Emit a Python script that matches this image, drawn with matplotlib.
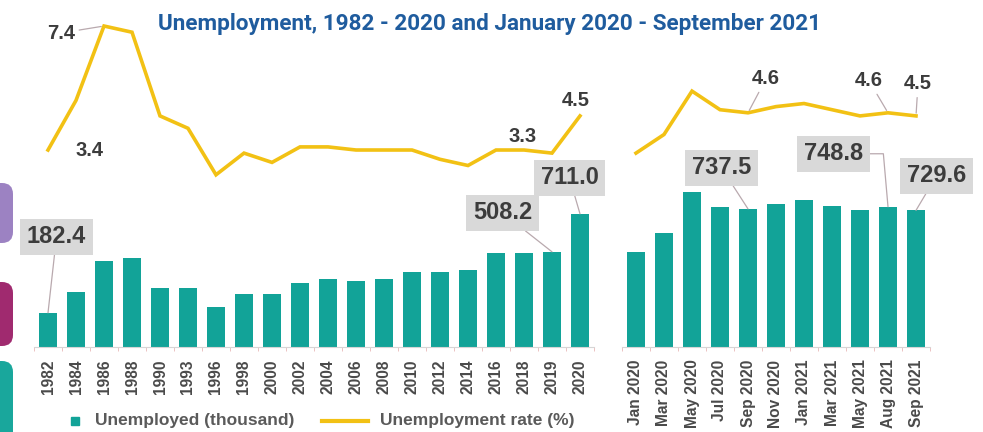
import numpy as np
import matplotlib.pyplot as plt
from matplotlib.patches import FancyBboxPatch, Rectangle
from matplotlib.lines import Line2D
from matplotlib.transforms import IdentityTransform

plt.rcParams['font.family'] = ['Liberation Sans', 'DejaVu Sans']

# annual series
years = ['1982', '1984', '1986', '1988', '1990', '1993', '1996', '1998', '2000', '2002',
         '2004', '2006', '2008', '2010', '2012', '2014', '2016', '2018', '2019', '2020']
year_unemployed = [182.4, 294, 459, 477, 315, 315, 214, 281, 281, 340,
                   361, 351, 365, 402, 399, 409, 504, 504, 508.2, 711.0]
year_rate = [3.4, 5.0, 7.4, 7.2, 4.5, 4.1, 2.6, 3.3, 3.0, 3.5,
             3.5, 3.4, 3.4, 3.4, 3.1, 2.9, 3.4, 3.4, 3.3, 4.5]

# monthly series
months = ['Jan 2020', 'Mar 2020', 'May 2020', 'Jul 2020', 'Sep 2020', 'Nov 2020',
          'Jan 2021', 'Mar 2021', 'May 2021', 'Aug 2021', 'Sep 2021']
month_unemployed = [507, 609, 828, 748, 737.5, 765, 783, 753, 732, 748.8, 729.6]
month_rate = [3.3, 3.9, 5.3, 4.7, 4.6, 4.8, 4.9, 4.7, 4.5, 4.6, 4.5]

TEAL = '#12A398'
GOLD = '#F2C114'
INK = '#3C3C3C'
LEADER = '#B9A9AE'

W, H = 983, 432
fig = plt.figure(figsize=(W / 100, H / 100), dpi=100)


def px_box(x0, y0, w, h):
    # pixel box (top-left origin) -> figure fraction
    return [x0 / W, 1 - (y0 + h) / H, w / W, h / H]


def draw_panel(ax, labels, unemployed, rate, bar_notes, rate_notes):
    x = np.arange(len(labels))
    ax.bar(x, unemployed, width=0.66, color=TEAL, zorder=2)
    ax.set_xlim(-0.5, len(labels) - 0.5)
    ax.set_ylim(0, 1746)
    ax.set_yticks([])
    ax.set_xticks(x)
    ax.set_xticklabels(labels, rotation=90, fontsize=11.2, fontweight='bold', color='#4A4A4A')
    ax.set_xticks(np.arange(-0.5, len(labels)), minor=True)
    ax.tick_params(axis='x', which='major', length=0, pad=9)
    ax.tick_params(axis='x', which='minor', length=3, color='#E8B8B8')
    for s in ['top', 'left', 'right']:
        ax.spines[s].set_visible(False)
    ax.spines['bottom'].set_color('#D6D6D6')
    ax.patch.set_alpha(0)

    for i, (dx, dy, conn) in bar_notes.items():
        ax.annotate(f'{unemployed[i]:.1f}', xy=(i, unemployed[i]), xytext=(dx, dy),
                    textcoords='offset pixels', ha='center', va='center',
                    fontsize=17, fontweight='bold', color=INK,
                    bbox=dict(boxstyle='square,pad=0.28', fc='#D9D9D9', ec='none'),
                    arrowprops=dict(arrowstyle='-', color=LEADER, lw=0.9,
                                    shrinkA=0, shrinkB=0, connectionstyle=conn))

    lx = ax.twinx()
    lx.plot(x, rate, color=GOLD, lw=2.6, solid_joinstyle='miter')
    lx.set_ylim(-2.955, 7.594)
    lx.set_yticks([])
    for s in lx.spines.values():
        s.set_visible(False)

    for i, (dx, dy, leader) in rate_notes.items():
        props = dict(arrowstyle='-', color=LEADER, lw=0.9, shrinkA=1, shrinkB=2) if leader else None
        lx.annotate(f'{rate[i]:.1f}', xy=(i, rate[i]), xytext=(dx, dy),
                    textcoords='offset pixels', ha='center', va='center',
                    fontsize=14.5, fontweight='bold', color=INK, arrowprops=props)


ax_years = fig.add_axes(px_box(34, 20, 560, 327))
draw_panel(ax_years, years, year_unemployed, year_rate,
           bar_notes={0: (8.5, 76, 'arc3'), 18: (-49.5, 39, 'arc3'), 19: (-10.5, 36, 'arc3')},
           rate_notes={0: (42, 0, False), 2: (-43, -7, True), 18: (-29, 17, False), 19: (-4, 15, False)})

ax_months = fig.add_axes(px_box(622, 20, 308, 327))
draw_panel(ax_months, months, month_unemployed, month_rate,
           bar_notes={4: (-26.5, 41, 'arc3'), 9: (-54.5, 53, 'angle,angleA=0,angleB=95,rad=0'),
                      10: (20.5, 34.5, 'arc3')},
           rate_notes={4: (18, 34, True), 9: (-19, 32, True), 10: (2, 32, True)})

fig.text(490 / W, 1 - 24 / H, 'Unemployment, 1982 - 2020 and January 2020 - September 2021',
         ha='center', va='center', fontsize=16.2, fontweight='bold', color='#1F5C9E',
         family=['Roboto', 'DejaVu Sans'])

# legend
fig.add_artist(Rectangle((71 / W, 1 - 425 / H), 8 / W, 8 / H, transform=fig.transFigure,
                         color=TEAL))
fig.text(95 / W, 1 - 421 / H, 'Unemployed (thousand)', ha='left', va='center',
         fontsize=12.5, fontweight='bold', color='#5A5A5A')
fig.add_artist(Line2D([322 / W, 368 / W], [1 - 421 / H, 1 - 421 / H],
                      transform=fig.transFigure, color=GOLD, lw=3))
fig.text(380 / W, 1 - 421 / H, 'Unemployment rate (%)', ha='left', va='center',
         fontsize=12.5, fontweight='bold', color='#5A5A5A')

# slide tabs on the left edge
for y0, y1, c in [(183, 243, '#9C82C2'), (282, 346, '#A02A6F'), (361, 445, '#19A79C')]:
    fig.add_artist(FancyBboxPatch((-30, H - y1), 43, y1 - y0, boxstyle='round,pad=0,rounding_size=11',
                                  transform=IdentityTransform(), fc=c, ec='none'))

fig.savefig('out.png', dpi=100)
